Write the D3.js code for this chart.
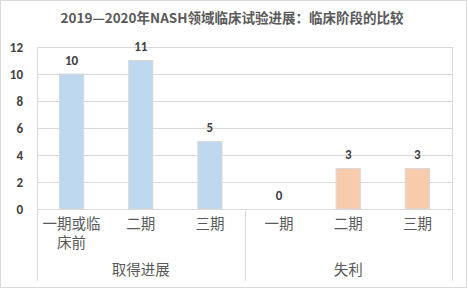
<!DOCTYPE html>
<html><head><meta charset="utf-8">
<script src="https://cdn.jsdelivr.net/npm/d3@7"></script>
<style>body{margin:0;background:#fff}svg{display:block}</style>
</head><body>
<svg id="c" width="468" height="289"></svg>
<script>
const title = "2019—2020年NASH领域临床试验进展：临床阶段的比较";
const groups = ["取得进展", "失利"];
const categories = [["一期或临","床前"], ["二期"], ["三期"], ["一期"], ["二期"], ["三期"]];
const groupOf = [0, 0, 0, 1, 1, 1];
const values = [10, 11, 5, 0, 3, 3];
const yTicks = [0, 2, 4, 6, 8, 10, 12];
const colors = ["#BDD7EE", "#F8CBAD"];

const svg = d3.select("#c");
const font = "'Noto Sans CJK SC','Noto Sans',sans-serif";
const L = 37, R = 452, T = 47, B = 209;
svg.append("rect").attr("x",0.5).attr("y",0.5).attr("width",466).attr("height",287)
  .attr("fill","#fff").attr("stroke","#d9d9d9");

svg.append("text").attr("x",232).attr("y",23).attr("text-anchor","middle")
  .attr("font-family",font).attr("font-weight","bold").attr("font-size",13.5)
  .attr("fill","#595959").text(title);

const x = d3.scaleBand().domain(d3.range(values.length)).range([L,R]).paddingInner(0.65).paddingOuter(0.325);
const xc = d3.scaleBand().domain(d3.range(values.length)).range([L,R]);
const y = d3.scaleLinear().domain([0,12]).range([B,T]);

// gridlines
svg.append("g").selectAll("line").data(yTicks).join("line")
  .attr("x1",L).attr("x2",R).attr("y1",d=>Math.round(y(d))+0.5).attr("y2",d=>Math.round(y(d))+0.5)
  .attr("stroke","#d9d9d9");

// y axis labels
svg.append("g").selectAll("text").data(yTicks).join("text")
  .attr("x",23).attr("y",d=>y(d)+4.5).attr("text-anchor","end")
  .attr("font-family","Calibri,'Liberation Sans',Arial,sans-serif").attr("font-weight","bold")
  .attr("font-size",13).attr("fill","#404040").text(d=>d);

// bars
svg.append("g").selectAll("rect").data(values).join("rect")
  .attr("x",(d,i)=>x(i)).attr("width",x.bandwidth())
  .attr("y",d=>y(d)).attr("height",d=>B-y(d))
  .attr("fill",(d,i)=>colors[groupOf[i]]).attr("stroke","#d9d9d9").attr("stroke-width",1);

// data labels
svg.append("g").selectAll("text").data(values).join("text")
  .attr("x",(d,i)=>x(i)+x.bandwidth()/2).attr("y",d=>y(d)-9.5)
  .attr("text-anchor","middle").attr("font-family","Calibri,'Liberation Sans',Arial,sans-serif")
  .attr("font-weight","bold").attr("font-size",13).attr("fill","#404040").text(d=>d);

// axis frame lines
const ax = svg.append("g").attr("stroke","#d9d9d9").attr("stroke-width",1);
ax.append("line").attr("x1",L+0.5).attr("x2",L+0.5).attr("y1",T).attr("y2",281);
ax.append("line").attr("x1",R+0.5).attr("x2",R+0.5).attr("y1",T).attr("y2",281);
const mid = xc(3);
ax.append("line").attr("x1",Math.round(mid)+0.5).attr("x2",Math.round(mid)+0.5).attr("y1",B).attr("y2",281);

// category labels
const cat = svg.append("g");
categories.forEach((lines,i)=>{
  lines.forEach((t,j)=>{
    cat.append("text").attr("x",xc(i)+xc.bandwidth()/2).attr("y",229+j*19)
      .attr("text-anchor","middle").attr("font-family",font).attr("font-size",14.5)
      .attr("fill","#595959").text(t);
  });
});
// group labels
groups.forEach((g,k)=>{
  const idx = d3.range(values.length).filter(i=>groupOf[i]===k);
  const cx = (xc(idx[0]) + xc(idx[idx.length-1]) + xc.bandwidth())/2;
  svg.append("text").attr("x",cx).attr("y",275).attr("text-anchor","middle")
    .attr("font-family",font).attr("font-size",14.5).attr("fill","#595959").text(g);
});
</script>
</body></html>
